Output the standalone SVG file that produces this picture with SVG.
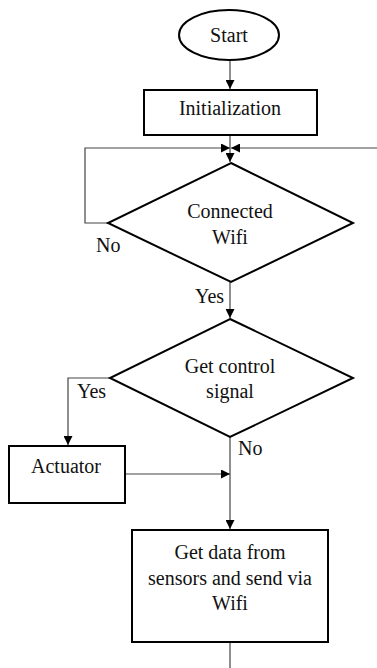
<svg xmlns="http://www.w3.org/2000/svg" width="377" height="668" viewBox="0 0 377 668">
<defs>
<marker id="ah" viewBox="0 0 10 10" refX="10" refY="5" markerWidth="9" markerHeight="9" markerUnits="userSpaceOnUse" orient="auto">
<path d="M0,0 L10,5 L0,10 Z" fill="#000"/>
</marker>
</defs>
<style>
.shape{fill:#fff;stroke:#000;stroke-width:2}
.conn{fill:none;stroke:#444;stroke-width:1.2}
text{font-family:'Liberation Serif','Times New Roman',Times,Tinos,'Nimbus Roman','Nimbus Roman No9 L',FreeSerif,'DejaVu Serif','Noto Serif',serif;font-size:20px;fill:#111}
.c{text-anchor:middle}
</style>
<rect width="377" height="668" fill="#fff"/>
<g id="connectors">
<path class="conn" d="M230,61 V89" marker-end="url(#ah)"/>
<path class="conn" d="M230,135 V162" marker-end="url(#ah)"/>
<path class="conn" d="M108,223 H85 V148 H230" marker-end="url(#ah)"/>
<path class="conn" d="M377,148 H231" marker-end="url(#ah)"/>
<path class="conn" d="M230,282 V318" marker-end="url(#ah)"/>
<path class="conn" d="M110,378 H68 V445" marker-end="url(#ah)"/>
<path class="conn" d="M125,474 H230" marker-end="url(#ah)"/>
<path class="conn" d="M230,437 V529" marker-end="url(#ah)"/>
<path class="conn" d="M230,642 V668"/>
</g>
<g id="start">
<ellipse class="shape" cx="229" cy="35" rx="50" ry="25"/>
<text class="c" x="229" y="42">Start</text>
</g>
<g id="init">
<rect class="shape" x="144" y="90" width="173" height="45"/>
<text class="c" x="230" y="115">Initialization</text>
</g>
<g id="wifi">
<polygon class="shape" points="231,163 353,223 231,282 108,223"/>
<text class="c" x="230" y="218">Connected</text>
<text class="c" x="230" y="244">Wifi</text>
<text x="96" y="252">No</text>
<text x="195" y="303">Yes</text>
</g>
<g id="control">
<polygon class="shape" points="230,319 353,378 230,437 110,378"/>
<text class="c" x="230" y="373">Get control</text>
<text class="c" x="230" y="398">signal</text>
<text x="77" y="398">Yes</text>
<text x="238" y="455">No</text>
</g>
<g id="actuator">
<rect class="shape" x="9" y="446" width="116" height="57"/>
<text class="c" x="66" y="473">Actuator</text>
</g>
<g id="senddata">
<rect class="shape" x="132" y="530" width="196" height="112"/>
<text class="c" x="230" y="559">Get data from</text>
<text class="c" x="230" y="585">sensors and send via</text>
<text class="c" x="230" y="610">Wifi</text>
</g>
</svg>
